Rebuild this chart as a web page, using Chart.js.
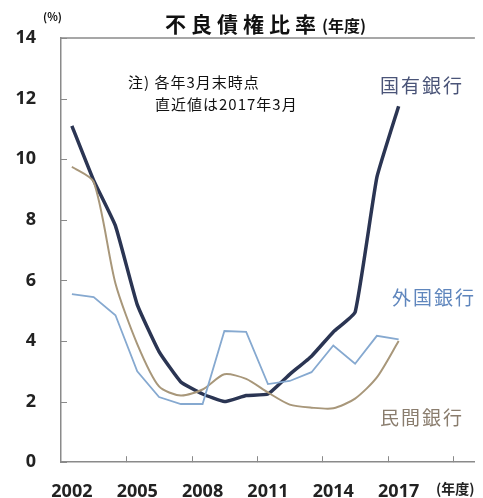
<!DOCTYPE html>
<html>
<head>
<meta charset="utf-8">
<script src="https://cdn.jsdelivr.net/npm/chart.js@4/dist/chart.umd.min.js"></script>
<style>
  html, body { margin: 0; padding: 0; background: #fff; }
  #wrap { width: 483px; height: 498px; position: relative; }
</style>
</head>
<body>
<div id="wrap"><canvas id="chart" width="483" height="498"></canvas></div>
<script>
// fiscal years on the x axis (last few are empty space on the right)
const years = ['2002','2003','2004','2005','2006','2007','2008','2009','2010',
  '2011','2012','2013','2014','2015','2016','2017','2018','2019','2020'];
const shownYears = ['2002','2005','2008','2011','2014','2017'];

// non-performing loan ratio (%)
const stateBanks   = [11.1, 9.3, 7.8, 5.2, 3.65, 2.65, 2.25, 2.0, 2.2, 2.25, 2.9, 3.5, 4.3, 4.95, 9.4, 11.75];
const privateBanks = [9.75, 9.25, 5.9, 3.9, 2.5, 2.2, 2.4, 2.9, 2.75, 2.3, 1.9, 1.8, 1.78, 2.1, 2.8, 4.0];
const foreignBanks = [5.55, 5.45, 4.85, 3.0, 2.15, 1.92, 1.92, 4.33, 4.3, 2.58, 2.68, 2.97, 3.85, 3.25, 4.17, 4.05];

const yTicks = [0, 2, 4, 6, 8, 10, 12, 14];

const axisColor = '#8a8a8a';

// title, notes, series labels and inner tick marks
const decor = {
  id: 'decor',
  afterDraw(chart) {
    const ctx = chart.ctx;
    const area = chart.chartArea;
    const x = chart.scales.x;
    const y = chart.scales.y;
    ctx.save();

    // frame top line
    ctx.strokeStyle = axisColor;
    ctx.lineWidth = 1.5;
    ctx.beginPath();
    ctx.moveTo(area.left, area.top);
    ctx.lineTo(area.right, area.top);
    ctx.stroke();

    // y inner ticks
    ctx.lineWidth = 1;
    yTicks.forEach(v => {
      const py = Math.round(y.getPixelForValue(v)) + 0.5;
      ctx.beginPath();
      ctx.moveTo(area.left, py);
      ctx.lineTo(area.left + 6, py);
      ctx.stroke();
    });

    // x inner ticks between categories, every 3 years
    const half = (x.getPixelForValue(1) - x.getPixelForValue(0)) / 2;
    years.forEach((yr, i) => {
      if (i > 0 && i % 3 === 0) {
        const px = Math.round(x.getPixelForValue(i) - half) + 0.5;
        ctx.beginPath();
        ctx.moveTo(px, area.bottom);
        ctx.lineTo(px, area.bottom - 6);
        ctx.stroke();
      }
    });

    ctx.textBaseline = 'middle';
    ctx.textAlign = 'left';

    // title
    ctx.fillStyle = '#111';
    ctx.font = 'bold 21px "Noto Sans CJK JP"';
    ctx.letterSpacing = '5px';
    ctx.fillText('不良債権比率', 165, 24);
    ctx.letterSpacing = '0px';
    ctx.font = 'bold 16px "Noto Sans CJK JP"';
    ctx.fillText('(年度)', 322, 26);

    ctx.font = 'bold 11px "Noto Sans CJK JP"';
    ctx.fillText('(%)', 43, 17);

    // note
    ctx.font = '15px "Noto Sans CJK JP"';
    ctx.letterSpacing = '1px';
    ctx.fillText('注) 各年3月末時点', 128, 82);
    ctx.fillText('直近値は2017年3月', 155, 104);

    // series labels
    ctx.font = '19px "Noto Sans CJK JP"';
    ctx.letterSpacing = '2px';
    ctx.fillStyle = '#4a5478';
    ctx.fillText('国有銀行', 380, 86);
    ctx.fillStyle = '#5f86bd';
    ctx.fillText('外国銀行', 392, 298);
    ctx.fillStyle = '#8a7d6e';
    ctx.fillText('民間銀行', 380, 418);

    ctx.letterSpacing = '0px';
    ctx.fillStyle = '#222';
    ctx.font = 'bold 14px "Noto Sans CJK JP"';
    ctx.fillText('(年度)', 436, 489);

    ctx.restore();
  }
};

new Chart(document.getElementById('chart'), {
  type: 'line',
  data: {
    labels: years,
    datasets: [
      {
        label: '外国銀行',
        data: foreignBanks,
        borderColor: '#86a9d0',
        borderWidth: 1.8,
        tension: 0,
        pointRadius: 0
      },
      {
        label: '民間銀行',
        data: privateBanks,
        borderColor: '#a8977a',
        borderWidth: 2,
        tension: 0.25,
        pointRadius: 0
      },
      {
        label: '国有銀行',
        data: stateBanks,
        borderColor: '#2b3553',
        borderWidth: 3.5,
        tension: 0.12,
        pointRadius: 0
      }
    ]
  },
  options: {
    responsive: false,
    animation: false,
    layout: { padding: { top: 38, right: 0, left: 0, bottom: 0 } },
    plugins: {
      legend: { display: false },
      tooltip: { enabled: false }
    },
    scales: {
      x: {
        offset: true,
        grid: { display: false, drawTicks: false },
        border: { display: true, color: axisColor, width: 1.5 },
        ticks: {
          autoSkip: false,
          maxRotation: 0,
          padding: 19,
          color: '#222',
          font: { family: 'Open Sans', weight: 'bold', size: 18 },
          callback: function (val) {
            const lbl = this.getLabelForValue(val);
            return shownYears.includes(lbl) ? lbl : '';
          }
        },
        afterFit: s => { s.height = 35; }
      },
      y: {
        min: 0,
        max: 14,
        grid: { display: false, drawTicks: false },
        border: { display: true, color: axisColor, width: 1.5 },
        ticks: {
          stepSize: 2,
          padding: 25,
          color: '#222',
          font: { family: 'Open Sans', weight: 'bold', size: 18 }
        },
        afterFit: s => { s.width = 61; }
      }
    }
  },
  plugins: [decor]
});
</script>
</body>
</html>
